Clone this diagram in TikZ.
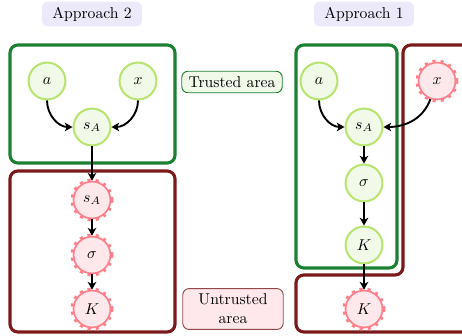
\documentclass[tikz,border=0pt]{standalone}
\usepackage{amsmath,amssymb}
\usepackage{tikz}
\usetikzlibrary{positioning, arrows.meta}
\definecolor{trustgreen}{RGB}{28,128,50}
\definecolor{untrustred}{RGB}{122,26,26}
\definecolor{tnodefill}{RGB}{241,250,233}
\definecolor{tnodeline}{RGB}{184,228,112}
\definecolor{unodefill}{RGB}{255,232,236}
\definecolor{unodeline}{RGB}{255,128,138}
\definecolor{tagfill}{RGB}{236,234,250}

\tikzset{
  trusted/.style={circle, draw=tnodeline, fill=tnodefill, line width=1.3pt, minimum size=23.5pt, inner sep=0pt},
  untrusted/.style={circle, draw=unodeline, fill=unodefill, line width=1.1pt, minimum size=23.5pt, inner sep=0pt,
    preaction={draw=unodeline, line width=3.8pt, dash pattern=on 1.8pt off 3pt}},
  areagreen/.style={draw=trustgreen, line width=2pt, rounded corners=5pt},
  areared/.style={draw=untrustred, line width=2pt, rounded corners=5pt},
  tag/.style={fill=tagfill, rounded corners=4pt, minimum width=64pt, minimum height=15pt},
  legendbox/.style={rounded corners=4pt, line width=0.6pt, minimum width=64pt, align=center},
  flow/.style={-{Stealth[length=5pt, width=5.5pt, inset=1.5pt]}, line width=1.2pt},
}

\begin{document}
\begin{tikzpicture}[x=0.637pt, y=-0.637pt]
     \useasboundingbox (0,0) rectangle (462,335);
     % titles
     \node[tag] (app2) at (92,14) {Approach 2};
     \node[tag] (app1) at (364,14) {Approach 1};

     % areas
     \draw[areagreen] (10,45) rectangle (175,163);
     \draw[areared] (10,171) rectangle (175,332);
     \draw[areagreen] (296,45) rectangle (397,268);
     \begin{scope}
       \clip (0,0) rectangle (462,335);
       \draw[areared] (480,45) -- (403,45) -- (403,275) -- (296,275) -- (296,332) -- (480,332);
     \end{scope}

     % legend
     \node[legendbox, draw=trustgreen, fill=tnodefill, minimum height=13pt] (trustlbl) at (232,82) {Trusted area};
     \node[legendbox, draw=untrustred!80, fill=unodefill, minimum height=26pt, inner sep=1pt] (untrustlbl) at (233,309) {Untrusted\\area};

     % approach 2
     \node[trusted] (a2) at (47,81) {$a$};
     \node[trusted] (x2) at (138,81) {$x$};
     \node[trusted] (sA2) at (92,127) {$s_A$};
     \node[untrusted] (sAu2) at (92,200) {$s_A$};
     \node[untrusted] (sigu2) at (92,255) {$\sigma$};
     \node[untrusted] (Ku2) at (92,309) {$K$};
     \draw[flow] (a2) to[out=-90, in=180] (sA2);
     \draw[flow] (x2) to[out=-90, in=0] (sA2);
     \draw[flow] (sA2) -- (sAu2);
     \draw[flow] (sAu2) -- (sigu2);
     \draw[flow] (sigu2) -- (Ku2);

     % approach 1
     \node[trusted] (a1) at (319,81) {$a$};
     \node[untrusted] (xu1) at (437,81) {$x$};
     \node[trusted] (sA1) at (364,127) {$s_A$};
     \node[trusted] (sig1) at (364,183) {$\sigma$};
     \node[trusted] (K1) at (364,245) {$K$};
     \node[untrusted] (Ku1) at (364,309) {$K$};
     \draw[flow] (a1) to[out=-90, in=180] (sA1);
     \draw[flow] (xu1) to[out=-110, in=0] (sA1);
     \draw[flow] (sA1) -- (sig1);
     \draw[flow] (sig1) -- (K1);
     \draw[flow] (K1) -- (Ku1);
    \end{tikzpicture}
\end{document}
